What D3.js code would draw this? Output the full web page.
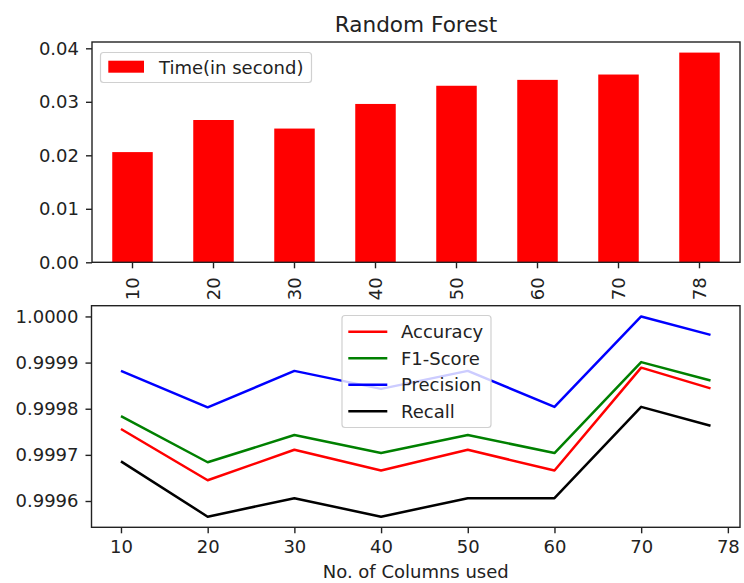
<!DOCTYPE html>
<html>
<head>
<meta charset="utf-8">
<script src="https://cdn.jsdelivr.net/npm/d3@7"></script>
<style>
  html, body { margin: 0; padding: 0; background: #fff; }
  svg { display: block; font-family: "DejaVu Sans", sans-serif; }
</style>
</head>
<body>
<svg id="chart" width="744" height="583"></svg>
<script>
// ---- data ----
const categories = [10, 20, 30, 40, 50, 60, 70, 78];
const timeValues = [0.0206, 0.0266, 0.0250, 0.0296, 0.0330, 0.0341, 0.0351, 0.0392];
const xTickValues = [10, 20, 30, 40, 50, 60, 70, 80];
const xTickLabels = ["10", "20", "30", "40", "50", "60", "70", "78"];
const timeTicks = [0.00, 0.01, 0.02, 0.03, 0.04];
const metricTicks = [0.9996, 0.9997, 0.9998, 0.9999, 1.0000];
const accuracy  = [0.999756, 0.999645, 0.999711, 0.999666, 0.999711, 0.999666, 0.999889, 0.999844];
const f1Score   = [0.999784, 0.999684, 0.999743, 0.999704, 0.999743, 0.999704, 0.999901, 0.999861];
const precision = [0.999882, 0.999803, 0.999882, 0.999843, 0.999882, 0.999804, 1.000000, 0.999960];
const recall    = [0.999686, 0.999566, 0.999606, 0.999566, 0.999606, 0.999606, 0.999804, 0.999763];
const seriesNames = ["Accuracy", "F1-Score", "Precision", "Recall"];
const seriesColors = ["#ff0000", "#008000", "#0000ff", "#000000"];
const seriesData = [accuracy, f1Score, precision, recall];

const svg = d3.select("#chart");
const ink = "#222";
const fs = 18;

// ---- top: bar chart ----
const upper = {l: 92, r: 740, t: 42, b: 262.3};
const xb = d3.scaleBand().domain(categories).range([upper.l, upper.r]).paddingInner(0.5).paddingOuter(0.25);
const yb = d3.scaleLinear().domain([0, 0.04118]).range([upper.b, upper.t]);

svg.append("text").attr("x", (upper.l + upper.r) / 2).attr("y", 32)
  .attr("text-anchor", "middle").attr("font-size", 21.6).attr("fill", ink).text("Random Forest");

svg.append("g").selectAll("rect").data(categories).join("rect")
  .attr("x", d => xb(d)).attr("width", xb.bandwidth())
  .attr("y", (d, i) => yb(timeValues[i])).attr("height", (d, i) => yb(0) - yb(timeValues[i]))
  .attr("fill", "#ff0000");

svg.append("g").attr("transform", `translate(${upper.l},0)`)
  .call(d3.axisLeft(yb).tickValues(timeTicks).tickFormat(d3.format(".2f")).tickSize(6).tickPadding(7));
const xAxisTop = svg.append("g").attr("transform", `translate(0,${upper.b})`)
  .call(d3.axisBottom(xb).tickSize(6).tickPadding(7));
xAxisTop.selectAll("text")
  .attr("transform", "rotate(-90)")
  .attr("text-anchor", "end")
  .attr("x", -15).attr("y", 0).attr("dy", "0.35em");

svg.append("rect").attr("x", upper.l).attr("y", upper.t).attr("width", upper.r - upper.l).attr("height", upper.b - upper.t)
  .attr("fill", "none").attr("stroke", ink).attr("stroke-width", 1.4);

// top legend
const lg1 = svg.append("g");
lg1.append("rect").attr("x", 100.5).attr("y", 52.5).attr("width", 211).attr("height", 30).attr("rx", 3)
  .attr("fill", "#fff").attr("fill-opacity", 0.8).attr("stroke", "#d0d0d0").attr("stroke-width", 1.2);
lg1.append("rect").attr("x", 108.3).attr("y", 60.7).attr("width", 35.7).attr("height", 12).attr("fill", "#ff0000");
lg1.append("text").attr("x", 159).attr("y", 67.5).attr("dy", "0.35em").attr("font-size", fs).attr("fill", ink)
  .text("Time(in second)");

// ---- bottom: line chart ----
const lower = {l: 91.5, r: 740, t: 305.7, b: 527.3};
const xl = d3.scaleLinear().domain([6.6, 81.4]).range([lower.l, lower.r]);
const yl = d3.scaleLinear().domain([0.999543, 1.0000233]).range([lower.b, lower.t]);

const line = d3.line().x((d, i) => xl(categories[i])).y(d => yl(d));
svg.append("g").selectAll("path").data(seriesData).join("path")
  .attr("d", d => line(d)).attr("fill", "none")
  .attr("stroke", (d, i) => seriesColors[i]).attr("stroke-width", 2.5).attr("stroke-linejoin", "round");

svg.append("g").attr("transform", `translate(${lower.l},0)`)
  .call(d3.axisLeft(yl).tickValues(metricTicks).tickFormat(d3.format(".4f")).tickSize(6).tickPadding(7));
svg.append("g").attr("transform", `translate(0,${lower.b})`)
  .call(d3.axisBottom(xl).tickValues(xTickValues).tickFormat((d, i) => xTickLabels[i]).tickSize(6).tickPadding(7));

svg.append("rect").attr("x", lower.l).attr("y", lower.t).attr("width", lower.r - lower.l).attr("height", lower.b - lower.t)
  .attr("fill", "none").attr("stroke", ink).attr("stroke-width", 1.4);

svg.append("text").attr("x", (lower.l + lower.r) / 2).attr("y", 578)
  .attr("text-anchor", "middle").attr("font-size", fs).attr("fill", ink).text("No. of Columns used");

// bottom legend
const lg2 = svg.append("g");
lg2.append("rect").attr("x", 342).attr("y", 315.5).attr("width", 149).attr("height", 112).attr("rx", 3)
  .attr("fill", "#fff").attr("fill-opacity", 0.8).attr("stroke", "#d0d0d0").attr("stroke-width", 1.2);
const rows = lg2.selectAll("g.row").data(seriesNames).join("g").attr("class", "row")
  .attr("transform", (d, i) => `translate(0,${331.7 + i * 26.5})`);
rows.append("line").attr("x1", 348.3).attr("x2", 387.3).attr("stroke", (d, i) => seriesColors[i]).attr("stroke-width", 2.5);
rows.append("text").attr("x", 401).attr("dy", "0.35em").attr("font-size", fs).attr("fill", ink).text(d => d);

// axis styling
svg.selectAll(".domain").remove();
svg.selectAll(".tick line").attr("stroke", ink).attr("stroke-width", 1.4);
svg.selectAll(".tick text").attr("font-size", fs).attr("fill", ink).attr("font-family", "DejaVu Sans, sans-serif");
</script>
</body>
</html>
